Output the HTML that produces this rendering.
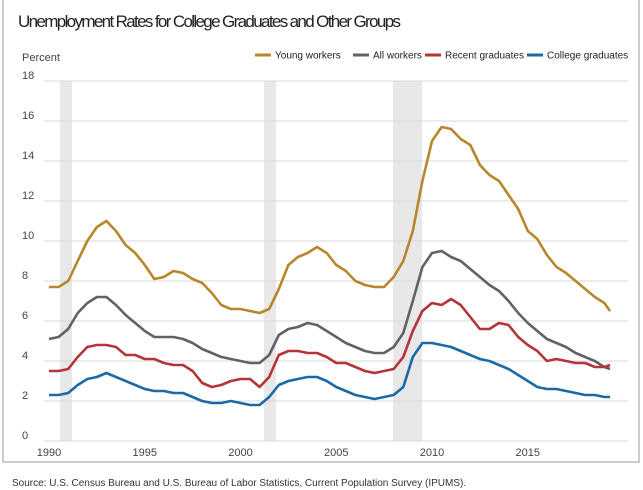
<!DOCTYPE html>
<html><head><meta charset="utf-8"><style>
body{margin:0;background:#fff;font-family:"Liberation Sans",sans-serif;}
#w{position:relative;width:643px;height:490px;overflow:hidden;}
</style></head><body><div id="w">
<svg width="643" height="490" viewBox="0 0 643 490" xmlns="http://www.w3.org/2000/svg" font-family="Liberation Sans, sans-serif">
<rect x="3" y="-2" width="636" height="464" fill="none" stroke="#bbb" stroke-width="1.5"/>
<text x="18" y="27" font-size="17" fill="#222" textLength="383">Unemployment Rates for College Graduates and Other Groups</text>
<text x="22" y="61" font-size="11" fill="#444">Percent</text>
<g id="shade" fill="#e8e8e8">
<rect x="60" y="81" width="12" height="360"/>
<rect x="264" y="81" width="12" height="360"/>
<rect x="393" y="81" width="29" height="360"/>
</g>
<g id="grid" stroke="#d9d9d9" stroke-width="1"></g>
<g id="ylab" font-size="11" fill="#444"></g>
<g id="xlab" font-size="11" fill="#444" text-anchor="middle"></g>
<g id="series" fill="none" stroke-width="2.6" stroke-linejoin="round"></g>
<g font-size="10" fill="#222">
<line x1="255" y1="55" x2="271" y2="55" stroke="#b8862b" stroke-width="3"/><text x="275" y="58.5">Young workers</text>
<line x1="353" y1="55" x2="369" y2="55" stroke="#5f6368" stroke-width="3"/><text x="373" y="58.5">All workers</text>
<line x1="425" y1="55" x2="441" y2="55" stroke="#b5343a" stroke-width="3"/><text x="445" y="58.5">Recent graduates</text>
<line x1="527" y1="55" x2="543" y2="55" stroke="#1b6aa5" stroke-width="3"/><text x="547" y="58.5">College graduates</text>
</g>
<text x="12" y="486" font-size="10" fill="#333">Source: U.S. Census Bureau and U.S. Bureau of Labor Statistics, Current Population Survey (IPUMS).</text>
</svg>
<script>
var NS="http://www.w3.org/2000/svg";
function X(t){return 49+(t-1990)*19.15;}
function Y(v){return 441-v*20;}
function el(p,n,a,txt){var e=document.createElementNS(NS,n);for(var k in a)e.setAttribute(k,a[k]);if(txt!=null)e.textContent=txt;document.getElementById(p).appendChild(e);}
for(var v=0;v<=18;v+=2){el("grid","line",{x1:44,x2:628,y1:Y(v),y2:Y(v)});el("ylab","text",{x:22,y:Y(v)-2},String(v));}
for(var yr=1990;yr<=2015;yr+=5){el("xlab","text",{x:X(yr),y:456},String(yr));}
var S={
"#b8862b":[7.7,7.7,8.0,9.0,10.0,10.7,11.0,10.5,9.8,9.4,8.8,8.1,8.2,8.5,8.4,8.1,7.9,7.4,6.8,6.6,6.6,6.5,6.4,6.6,7.6,8.8,9.2,9.4,9.7,9.4,8.8,8.5,8.0,7.8,7.7,7.7,8.2,9.0,10.5,13.0,15.0,15.7,15.6,15.1,14.8,13.8,13.3,13.0,12.3,11.6,10.5,10.1,9.3,8.7,8.4,8.0,7.6,7.2,6.9],
"#5f6368":[5.1,5.2,5.6,6.4,6.9,7.2,7.2,6.8,6.3,5.9,5.5,5.2,5.2,5.2,5.1,4.9,4.6,4.4,4.2,4.1,4.0,3.9,3.9,4.3,5.3,5.6,5.7,5.9,5.8,5.5,5.2,4.9,4.7,4.5,4.4,4.4,4.7,5.4,7.0,8.7,9.4,9.5,9.2,9.0,8.6,8.2,7.8,7.5,7.0,6.4,5.9,5.5,5.1,4.9,4.7,4.4,4.2,4.0,3.7],
"#b5343a":[3.5,3.5,3.6,4.2,4.7,4.8,4.8,4.7,4.3,4.3,4.1,4.1,3.9,3.8,3.8,3.5,2.9,2.7,2.8,3.0,3.1,3.1,2.7,3.2,4.3,4.5,4.5,4.4,4.4,4.2,3.9,3.9,3.7,3.5,3.4,3.5,3.6,4.2,5.5,6.5,6.9,6.8,7.1,6.8,6.2,5.6,5.6,5.9,5.8,5.2,4.8,4.5,4.0,4.1,4.0,3.9,3.9,3.7,3.7],
"#1b6aa5":[2.3,2.3,2.4,2.8,3.1,3.2,3.4,3.2,3.0,2.8,2.6,2.5,2.5,2.4,2.4,2.2,2.0,1.9,1.9,2.0,1.9,1.8,1.8,2.2,2.8,3.0,3.1,3.2,3.2,3.0,2.7,2.5,2.3,2.2,2.1,2.2,2.3,2.7,4.2,4.9,4.9,4.8,4.7,4.5,4.3,4.1,4.0,3.8,3.6,3.3,3.0,2.7,2.6,2.6,2.5,2.4,2.3,2.3,2.2]};
var last={"#b8862b":6.5,"#5f6368":3.6,"#b5343a":3.8,"#1b6aa5":2.2};
for(var c in S){var a=S[c],d="";for(var i=0;i<a.length;i++){d+=(i?"L":"M")+X(1990+i*0.5).toFixed(1)+","+Y(a[i]).toFixed(1);}
d+="L"+X(2019.3).toFixed(1)+","+Y(last[c]).toFixed(1);
el("series","path",{d:d,stroke:c});}
</script>
</div></body></html>
